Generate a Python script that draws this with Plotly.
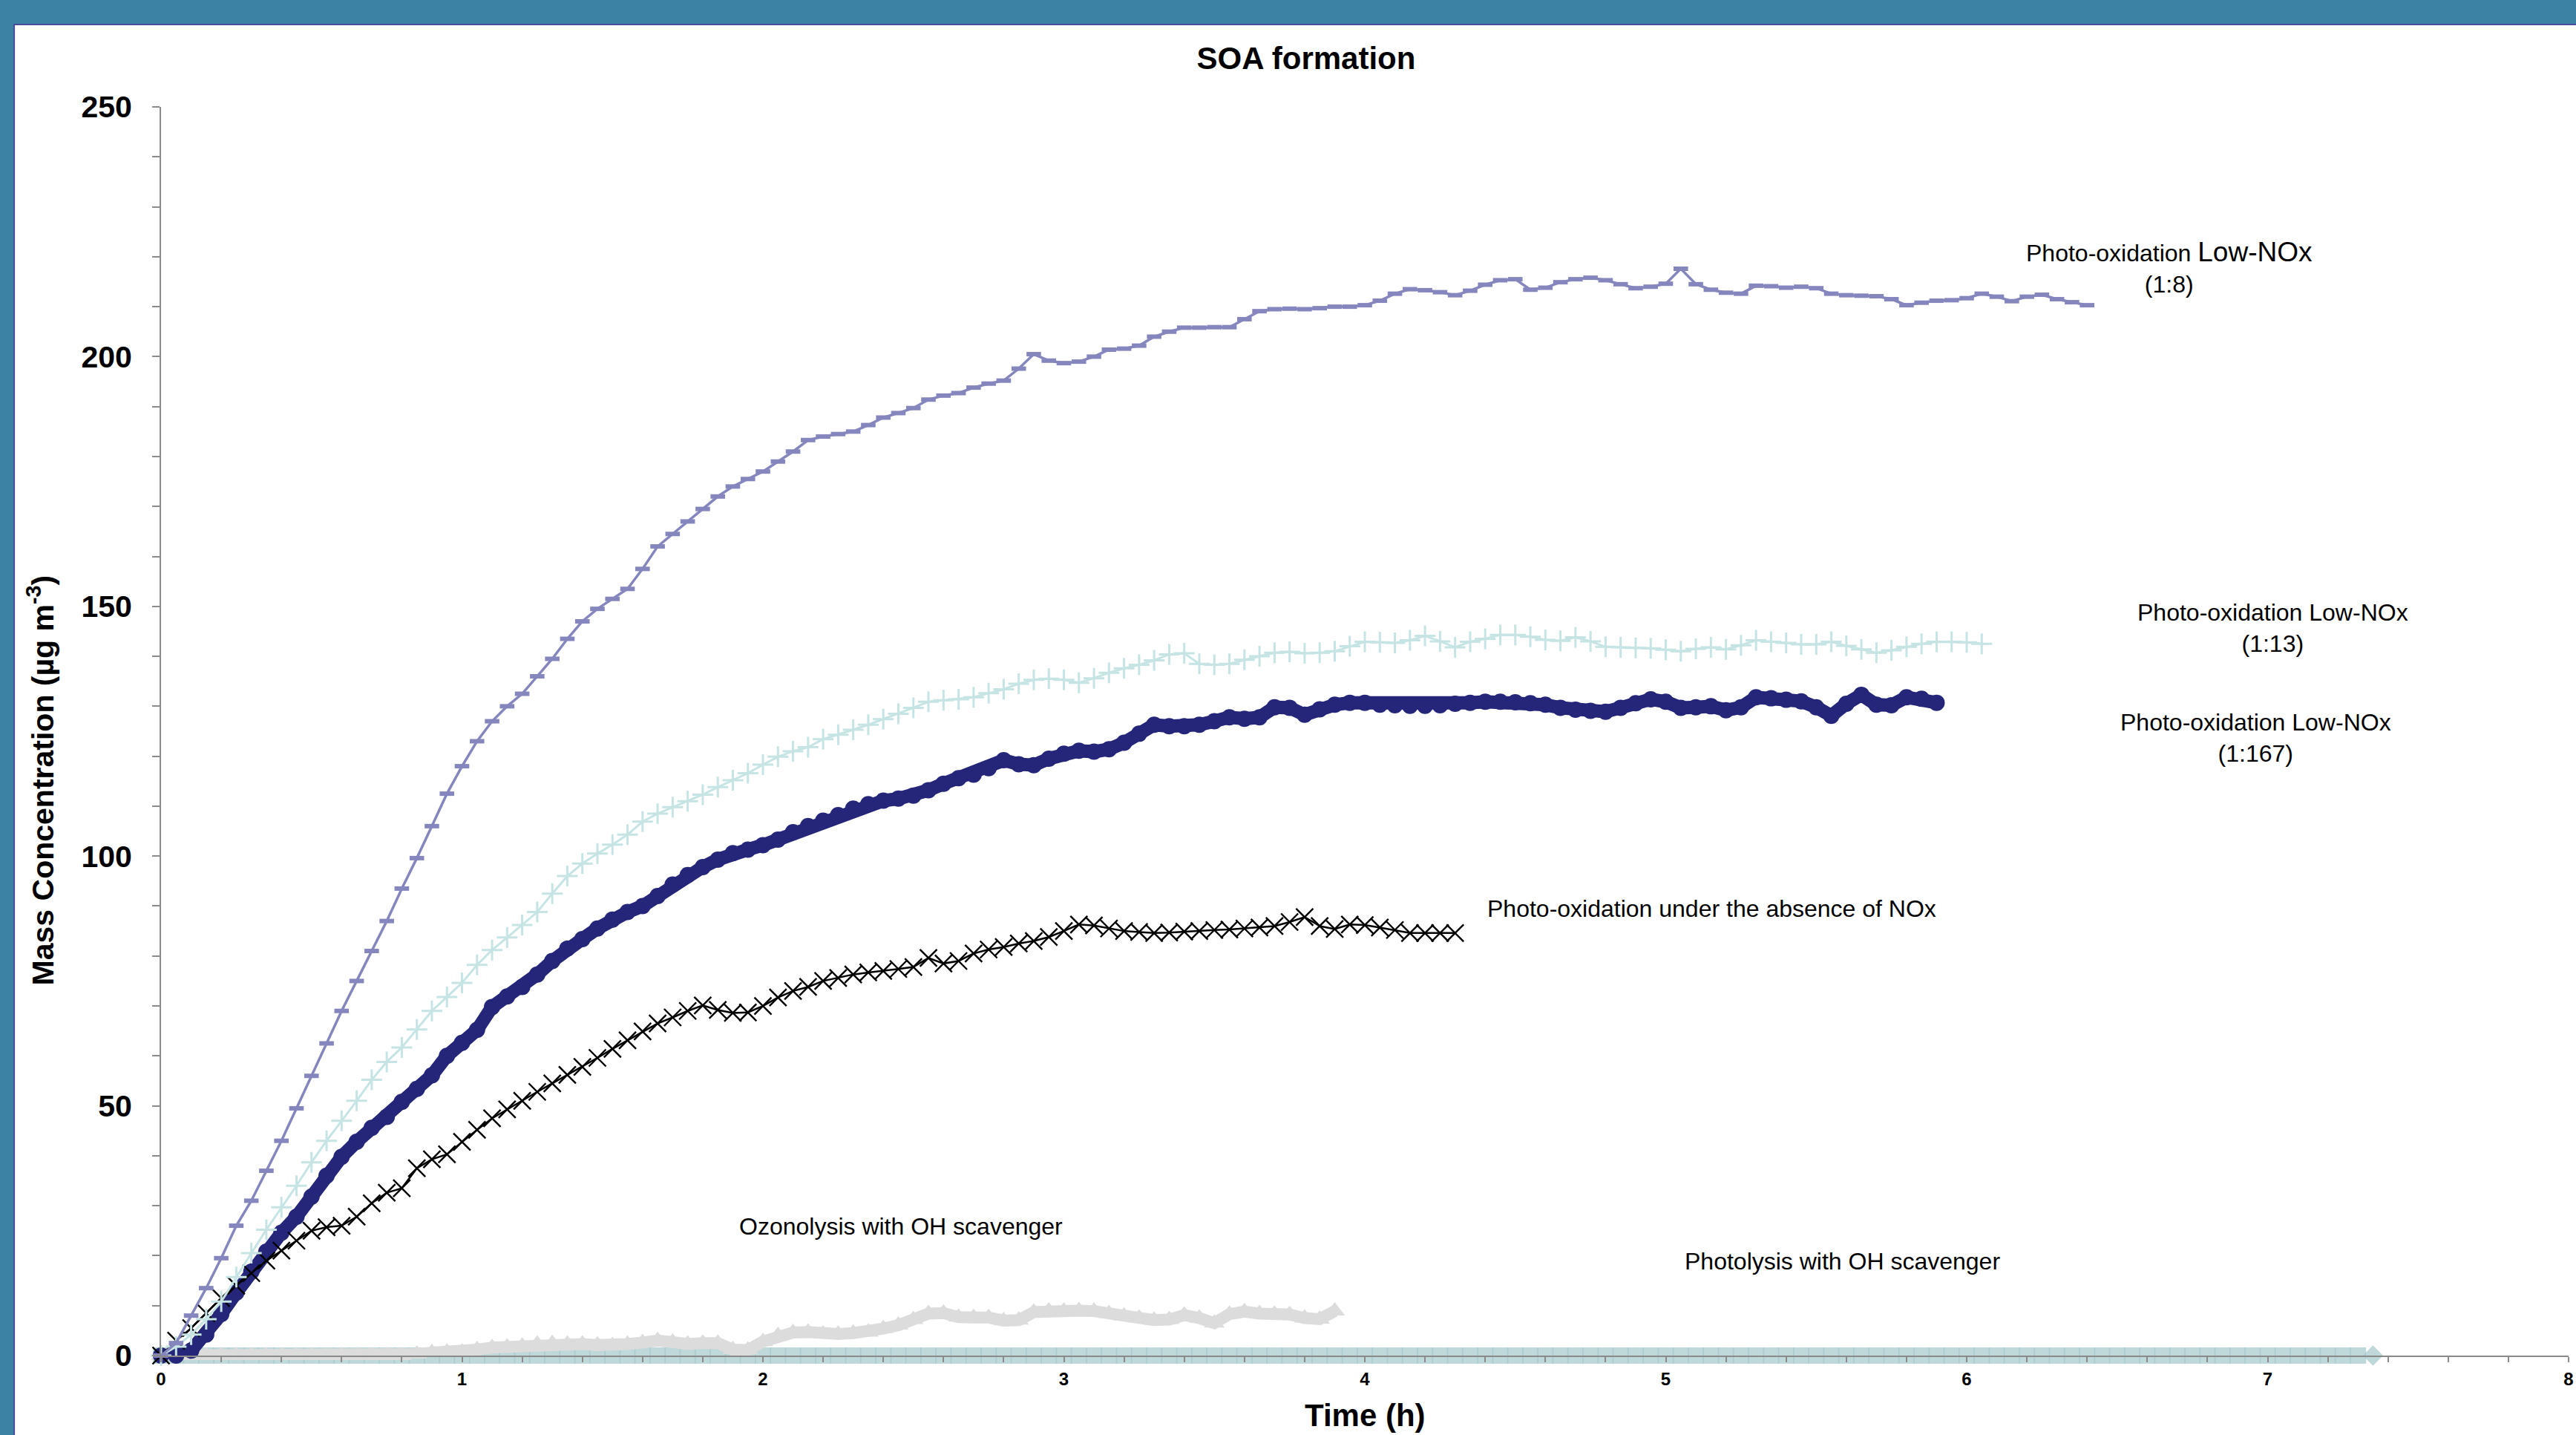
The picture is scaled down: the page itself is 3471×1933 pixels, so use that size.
import plotly.graph_objects as go

# ---------------- data (time in h, mass concentration in ug m-3) ----------------
T = [0.00, 0.05, 0.10, 0.15, 0.20, 0.25, 0.30, 0.35, 0.40, 0.45, 0.50, 0.55, 0.60, 0.65, 0.70, 0.75, 0.80, 0.85, 0.90, 0.95,
     1.00, 1.05, 1.10, 1.15, 1.20, 1.25, 1.30, 1.35, 1.40, 1.45, 1.50, 1.55, 1.60, 1.65, 1.70, 1.75, 1.80, 1.85, 1.90, 1.95,
     2.00, 2.05, 2.10, 2.15, 2.20, 2.25, 2.30, 2.35, 2.40, 2.45, 2.50, 2.55, 2.60, 2.65, 2.70, 2.75, 2.80, 2.85, 2.90, 2.95,
     3.00, 3.05, 3.10, 3.15, 3.20, 3.25, 3.30, 3.35, 3.40, 3.45, 3.50, 3.55, 3.60, 3.65, 3.70, 3.75, 3.80, 3.85, 3.90, 3.95,
     4.00, 4.05, 4.10, 4.15, 4.20, 4.25, 4.30, 4.35, 4.40, 4.45, 4.50, 4.55, 4.60, 4.65, 4.70, 4.75, 4.80, 4.85, 4.90, 4.95,
     5.00, 5.05, 5.10, 5.15, 5.20, 5.25, 5.30, 5.35, 5.40, 5.45, 5.50, 5.55, 5.60, 5.65, 5.70, 5.75, 5.80, 5.85, 5.90, 5.95,
     6.00, 6.05, 6.10, 6.15, 6.20, 6.25, 6.30, 6.35, 6.40, 6.45, 6.50, 6.55, 6.60, 6.65, 6.70, 6.75, 6.80, 6.85, 6.90, 6.95,
     7.00, 7.05, 7.10, 7.15, 7.20, 7.25, 7.30, 7.35]

LOWNOX_1_8 = [0, 2.5, 8, 13.5, 19.5, 26, 31, 37, 43, 49.5, 56, 62.5, 69, 75, 81, 87, 93.5, 99.6, 106, 112.5,
              118, 123, 127, 130, 132.5, 136, 139.5, 143.5, 147, 149.5, 151.5, 153.5, 157.5, 162, 164.5, 167, 169.5, 172, 174, 175.5,
              177, 179, 181, 183.3, 184, 184.5, 185, 186.3, 187.8, 188.7, 189.7, 191.4, 192.2, 192.7, 193.8, 194.6, 195.2, 197.6, 200.5, 199.2,
              198.7, 199, 200, 201.4, 201.6, 202.2, 204, 205, 205.8, 205.8, 205.9, 205.9, 207.5, 209.1, 209.5, 209.6, 209.5, 209.7, 210, 210,
              210.3, 211.2, 212.6, 213.5, 213.3, 212.9, 212.3, 213.2, 214.4, 215.3, 215.5, 213.4, 213.8, 214.9, 215.5, 215.8, 215.3, 214.5, 213.7, 214,
              214.6, 217.6, 214.5, 213.4, 212.8, 212.6, 214.2, 214.1, 213.8, 214, 213.7, 212.6, 212.3, 212.2, 212.1, 211.5, 210.3, 210.8, 211.2, 211.3,
              211.7, 212.6, 212, 211.1, 212, 212.4, 211.5, 210.9, 210.3]

LOWNOX_1_13 = [0, 1.8, 4.2, 7.3, 10.8, 15.7, 20.5, 25.2, 29.7, 34, 38.7, 43, 47, 51, 55.2, 58.8, 61.7, 65.3, 69, 71.8,
               74.6, 78.2, 81.2, 83.7, 86.2, 88.8, 92.5, 96, 98.5, 100.5, 102.3, 104.3, 106.9, 108.5, 109.8, 111, 112.3, 113.8, 115.2, 116.6,
               118.3, 119.9, 121, 121.8, 123.4, 124.3, 125.3, 126.3, 127.4, 128.5, 129.7, 130.9, 131.2, 131.4, 131.8, 132.6, 133.4, 134.5, 135.3, 135.5,
               135.3, 134.7, 135.6, 136.7, 137.6, 138.3, 139.2, 140.4, 140.6, 138.5, 138.3, 138.5, 139.3, 140, 140.7, 140.9, 140.6, 140.7, 141, 142,
               142.9, 142.8, 142.7, 143.2, 144.1, 143, 141.8, 142.9, 143.5, 144.3, 144.3, 143.9, 143.3, 143.1, 143.8, 143, 141.9, 141.8, 141.7, 141.6,
               141.3, 141, 141.5, 141.8, 141.4, 142.2, 143.2, 142.9, 142.7, 142.4, 142.4, 142.9, 142.1, 141.4, 140.7, 141.2, 141.9, 142.5, 142.9, 142.9,
               142.8, 142.5]

LOWNOX_1_167 = [0, 0, 1, 4.2, 8.3, 12.6, 16.8, 20.8, 24.6, 27.8, 31.8, 36, 39.8, 42.8, 45.6, 47.8, 50.8, 53.4, 56.1, 60,
                62.6, 65.2, 69.8, 71.9, 73.8, 76.3, 79, 81.5, 83.4, 85.5, 87.3, 88.8, 90, 92, 94.3, 96.2, 97.8, 99.3, 100.6, 101.3,
                102.2, 103.3, 104.8, 106, 107.1, 108.2, 109.5, 110.4, 111.1, 111.5, 112.1, 113.2, 114.5, 115.6, 116.3, 117.6, 119.2, 118.4, 118.2, 119.5,
                120.5, 121.1, 120.9, 121.4, 122.7, 124.5, 126.3, 126, 126, 126.3, 127, 127.8, 127.5, 127.8, 129.8, 129.7, 128.3, 129.4, 130.3, 130.7,
                130.7, 130.3, 130.2, 130.1, 130.1, 130.2, 130.5, 130.7, 130.9, 130.9, 130.8, 130.6, 130.3, 129.7, 129.3, 129.1, 128.9, 129.7, 130.6, 131.4,
                130.9, 129.7, 129.8, 130, 129.2, 129.8, 131.8, 131.6, 131.3, 131, 129.8, 128.1, 130.5, 132.3, 130.3, 130.2, 131.8, 131.5, 130.7]

NO_NOX = [0, 3, 5.5, 8.5, 11.5, 14, 16.5, 19, 21, 23, 25, 25.7, 26, 27.8, 30.5, 32.6, 33.5, 37.5, 39.3, 40.3,
          42.8, 45.2, 47.5, 49.3, 51, 52.8, 54.5, 56.2, 57.8, 59.6, 61.4, 63.1, 64.9, 66.5, 67.7, 69, 70.1, 69.2, 68.6, 68.7,
          70, 71.7, 73, 73.8, 75, 75.6, 76.3, 76.7, 77, 77.4, 77.8, 79.6, 78.5, 79, 80.5, 81.3, 81.8, 82.5, 83, 83.8,
          85, 86.3, 86.1, 85.5, 85, 84.8, 84.6, 84.7, 84.9, 85, 85.2, 85.3, 85.5, 85.7, 86, 86.8, 87.8, 86, 85.4, 86.3,
          86.2, 85.7, 85.2, 84.6, 84.6, 84.6, 84.6]

OZONOLYSIS = [0, 0, 0, 0, 0, 0, 0, 0, 0, 0, 0, 0, 0, 0, 0, 0, 0, 0.3, 0.6, 0.7,
              0.7, 1.2, 1.6, 1.7, 1.9, 2.3, 2.4, 2.3, 2.3, 2.1, 2.0, 2.3, 2.6, 3.0, 2.7, 2.3, 2.5, 2.5, 1.2, 1.1,
              2.8, 4.0, 4.6, 4.7, 4.3, 4.3, 4.5, 4.7, 5.4, 6.1, 7.2, 8.4, 8.5, 7.7, 7.6, 7.6, 7.0, 7.1, 8.7, 8.9,
              8.9, 9.0, 8.9, 8.4, 7.9, 7.5, 7.1, 7.2, 8.1, 7.5, 6.5, 8.3, 8.8, 8.4, 8.3, 8.2, 7.5, 7.3, 8.9]

PHOTOLYSIS = [0, 0, 0, 0, 0, 0, 0, 0, 0, 0, 0, 0, 0, 0, 0, 0, 0, 0, 0, 0,
              0, 0, 0, 0, 0, 0, 0, 0, 0, 0, 0, 0, 0, 0, 0, 0, 0, 0, 0, 0,
              0, 0, 0, 0, 0, 0, 0, 0, 0, 0, 0, 0, 0, 0, 0, 0, 0, 0, 0, 0,
              0, 0, 0, 0, 0, 0, 0, 0, 0, 0, 0, 0, 0, 0, 0, 0, 0, 0, 0, 0,
              0, 0, 0, 0, 0, 0, 0, 0, 0, 0, 0, 0, 0, 0, 0, 0, 0, 0, 0, 0,
              0, 0, 0, 0, 0, 0, 0, 0, 0, 0, 0, 0, 0, 0, 0, 0, 0, 0, 0, 0,
              0, 0, 0, 0, 0, 0, 0, 0, 0, 0, 0, 0, 0, 0, 0, 0, 0, 0, 0, 0,
              0, 0, 0, 0, 0, 0, 0, 0]

X_TICKS = [0, 1, 2, 3, 4, 5, 6, 7, 8]
Y_TICKS = [0, 50, 100, 150, 200, 250]

# ---------------- styling ----------------
FONT = "Liberation Sans, Arial, Helvetica, sans-serif"
AXIS_GREY = "#8a8a8a"

fig = go.Figure()


def add_series(vals, color, mode, line_w, symbol, msize, mline_w=0, mline_color=None):
    n = len(vals)
    marker = dict(symbol=symbol, size=msize, color=color,
                  line=dict(width=mline_w, color=mline_color or color))
    fig.add_trace(go.Scatter(x=T[:n], y=vals, mode=mode,
                             line=dict(color=color, width=line_w),
                             marker=marker, cliponaxis=False,
                             showlegend=False, hoverinfo="skip"))


# bottom -> top
n_ph = len(PHOTOLYSIS)
fig.add_trace(go.Scatter(x=T[:n_ph], y=PHOTOLYSIS, mode="markers",
                         marker=dict(symbol=["square"] * (n_ph - 1) + ["diamond"],
                                     size=[22] * (n_ph - 1) + [21], color="#a4c7ca",
                                     line=dict(width=0)),
                         cliponaxis=False, showlegend=False, hoverinfo="skip"))
add_series(OZONOLYSIS, "#dcdcdc", "lines+markers", 16, "triangle-up", 24)
add_series(LOWNOX_1_167, "#25257a", "lines+markers", 18, "circle", 22)
add_series(NO_NOX, "#000000", "lines+markers", 2.5, "x-thin", 23, 2.4, "#000000")
add_series(LOWNOX_1_13, "#c6e4e4", "lines+markers", 3, "cross-thin", 20, 3, "#c6e4e4")
add_series(LOWNOX_1_8, "#8686be", "lines+markers", 3.5, "line-ew", 14, 6, "#8686be")

# ---------------- annotations ----------------
ann_font = dict(family=FONT, size=32, color="#000000")
annotations = [
    dict(x=6.674, y=217.9, xref="x", yref="y", xanchor="center", yanchor="middle", align="center",
         text="Photo-oxidation <span style='font-size:37px'>Low-NOx</span><br>(1:8)", showarrow=False, font=ann_font),
    dict(x=7.017, y=145.7, xref="x", yref="y", xanchor="center", yanchor="middle", align="center",
         text="Photo-oxidation Low-NOx<br>(1:13)", showarrow=False, font=ann_font),
    dict(x=6.960, y=123.7, xref="x", yref="y", xanchor="center", yanchor="middle", align="center",
         text="Photo-oxidation Low-NOx<br>(1:167)", showarrow=False, font=ann_font),
    dict(x=4.403, y=89.5, xref="x", yref="y", xanchor="left", yanchor="middle",
         text="Photo-oxidation under the absence of NOx", showarrow=False, font=ann_font),
    dict(x=1.916, y=25.9, xref="x", yref="y", xanchor="left", yanchor="middle",
         text="Ozonolysis with OH scavenger", showarrow=False, font=ann_font),
    dict(x=5.059, y=18.9, xref="x", yref="y", xanchor="left", yanchor="middle",
         text="Photolysis with OH scavenger", showarrow=False, font=ann_font),
    # axis titles
    dict(x=0.5, y=-0.0476, xref="paper", yref="paper", xanchor="center", yanchor="middle",
         text="<b>Time (h)</b>", showarrow=False, font=dict(family=FONT, size=42, color="#000000")),
    dict(x=-0.0500, y=0.461, xref="paper", yref="paper", xanchor="center", yanchor="middle",
         textangle=-90, text="<b>Mass Concentration (µg m<sup>-3</sup>)</b>", showarrow=False,
         font=dict(family=FONT, size=41, color="#000000")),
]

# slide-like frame: teal background with a white panel
shapes = [
    dict(type="rect", xref="paper", yref="paper", x0=-0.0610, x1=1.02, y0=-0.08, y1=1.066,
         fillcolor="#ffffff", line=dict(color="#4b4b9c", width=2), layer="below"),
]

fig.update_layout(
    width=3471, height=1933, autosize=False,
    margin=dict(l=217, r=3, t=144, b=107, pad=0),
    paper_bgcolor="#3b82a4", plot_bgcolor="rgba(0,0,0,0)",
    font=dict(family=FONT, color="#000000"),
    title=dict(text="<b>SOA formation</b>", x=1760 / 3471, xref="container", xanchor="center",
               y=1 - 78 / 1933, yref="container", yanchor="middle",
               font=dict(family=FONT, size=42, color="#000000")),
    annotations=annotations, shapes=shapes,
    xaxis=dict(range=[0, 8], tickmode="array", tickvals=X_TICKS, ticktext=[str(v) for v in X_TICKS],
               ticks="outside", ticklen=7, tickwidth=2, tickcolor=AXIS_GREY,
               showline=True, linecolor=AXIS_GREY, linewidth=2, showgrid=False, zeroline=False,
               tickfont=dict(family=FONT, size=24, color="#000000", weight="bold"),
               ticklabelstandoff=2, ticklabeloverflow="allow",
               minor=dict(dtick=0.2, tick0=0, ticks="outside", ticklen=7, tickwidth=2,
                          tickcolor=AXIS_GREY, showgrid=False)),
    yaxis=dict(range=[0, 250], tickmode="array", tickvals=Y_TICKS, ticktext=[str(v) for v in Y_TICKS],
               ticks="outside", ticklen=10, tickwidth=2, tickcolor=AXIS_GREY,
               showline=True, linecolor=AXIS_GREY, linewidth=2, showgrid=False, zeroline=False,
               tickfont=dict(family=FONT, size=41, color="#000000", weight="bold"),
               ticklabelstandoff=19,
               minor=dict(dtick=10, tick0=0, ticks="outside", ticklen=10, tickwidth=2,
                          tickcolor=AXIS_GREY, showgrid=False)),
)

# remove the browser's default page margin so the figure fills the window exactly
fig.write_html("out.html", config={"displayModeBar": False},
               post_script="document.body.style.margin='0px';")
